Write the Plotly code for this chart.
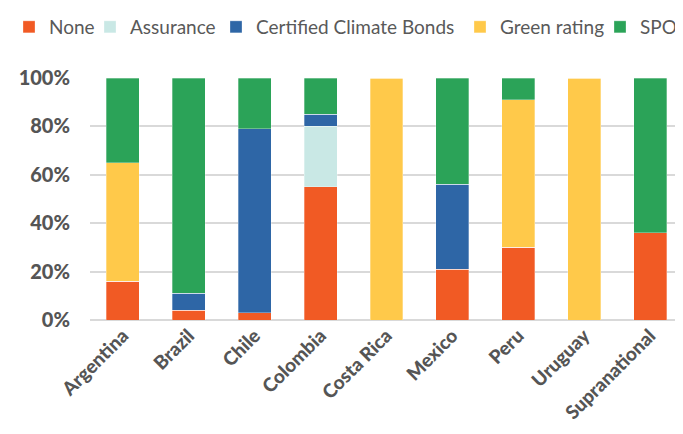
import plotly.graph_objects as go

countries = ["Argentina", "Brazil", "Chile", "Colombia", "Costa Rica", "Mexico", "Peru", "Uruguay", "Supranational"]
none_vals = [16, 4, 3, 55, 0, 21, 30, 0, 36]
assurance_vals = [0, 0, 0, 25, 0, 0, 0, 0, 0]
ccb_vals = [0, 7, 76, 5, 0, 35, 0, 0, 0]
green_vals = [49, 0, 0, 0, 100, 0, 61, 100, 0]
spo_vals = [35, 89, 21, 15, 0, 44, 9, 0, 64]

series_names = ["None", "Assurance", "Certified Climate Bonds", "Green rating", "SPO"]
series_vals = [none_vals, assurance_vals, ccb_vals, green_vals, spo_vals]
colors = ["#F15A24", "#C9E8E5", "#2E66A6", "#FFC94A", "#2BA358"]

# page body has an 8px margin; figure is sized to fit the window
W, H = 675, 426
legend_px = [1, 82, 208, 452, 592]
legend_ids = ["legend", "legend2", "legend3", "legend4", "legend5"]

fig = go.Figure()
for name, vals, color, lid in zip(series_names, series_vals, colors, legend_ids):
    fig.add_trace(go.Bar(
        name=name, x=countries, y=[v / 100 for v in vals], legend=lid,
        marker=dict(color=color, line=dict(width=0.6, color="rgba(255,255,255,0.5)")),
    ))

layout_legends = {}
for lid, px in zip(legend_ids, legend_px):
    layout_legends[lid] = dict(
        orientation="h", xref="container", x=px / W, xanchor="left",
        yref="container", y=1.0, yanchor="top",
        font=dict(size=19, color="#595959", family="Lato"),
        itemwidth=30, itemclick=False, bgcolor="rgba(0,0,0,0)",
    )

fig.update_layout(
    barmode="stack",
    bargap=0.5,
    width=W, height=H,
    margin=dict(l=82, r=0, t=70, b=114, autoexpand=False),
    plot_bgcolor="white", paper_bgcolor="white",
    font=dict(family="Lato", color="#595959"),
    showlegend=True,
    **layout_legends,
)
fig.update_yaxes(
    range=[0, 1], tickformat=".0%", dtick=0.2, automargin=False,
    showgrid=True, gridcolor="#D9D9D9", gridwidth=2,
    zeroline=True, zerolinecolor="#D9D9D9", zerolinewidth=2,
    tickfont=dict(size=20, color="#555555", family="Lato Black"),
    ticks="", ticklabelstandoff=19,
)
fig.update_xaxes(
    tickangle=-45, automargin=False,
    tickfont=dict(size=19, color="#555555", family="Lato Black"),
    showline=False, ticks="",
)

fig.write_html("out.html")
